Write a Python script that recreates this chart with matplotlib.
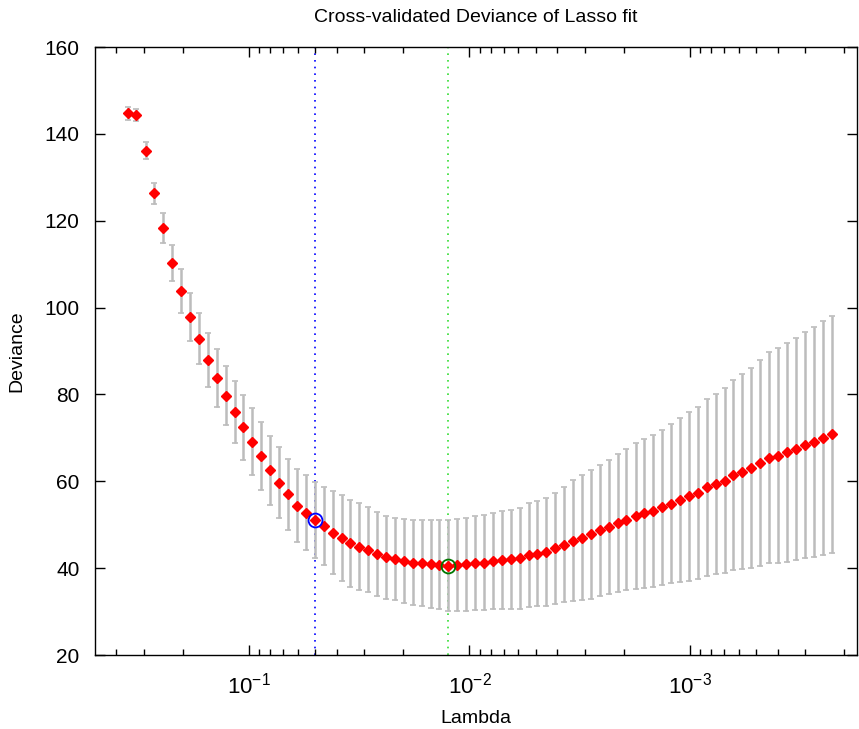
import numpy as np
import matplotlib
matplotlib.use("Agg")
import matplotlib.pyplot as plt
from matplotlib.ticker import LogLocator, NullFormatter, MultipleLocator

plt.rcParams['font.family'] = ['Liberation Sans', 'DejaVu Sans']
plt.rcParams['mathtext.default'] = 'regular'

# log10 of lambda for each plotted point
log_lambda = [-0.450, -0.490, -0.531, -0.571, -0.612, -0.652, -0.692, -0.733, -0.773, -0.814,
              -0.854, -0.894, -0.935, -0.975, -1.016, -1.056, -1.096, -1.137, -1.177, -1.218,
              -1.258, -1.298, -1.339, -1.379, -1.420, -1.460, -1.500, -1.541, -1.581, -1.622,
              -1.662, -1.702, -1.743, -1.783, -1.824, -1.864, -1.904, -1.945, -1.985, -2.026,
              -2.066, -2.106, -2.147, -2.187, -2.228, -2.268, -2.308, -2.349, -2.389, -2.430,
              -2.470, -2.510, -2.551, -2.591, -2.632, -2.672, -2.712, -2.753, -2.793, -2.834,
              -2.874, -2.914, -2.955, -2.995, -3.036, -3.076, -3.116, -3.157, -3.197, -3.238,
              -3.278, -3.318, -3.359, -3.399, -3.440, -3.480, -3.520, -3.561, -3.601, -3.642]

deviance = [144.7, 144.3, 136.1, 126.3, 118.3, 110.3, 103.8, 97.8, 92.8, 87.9,
            83.8, 79.7, 76.0, 72.4, 69.1, 65.8, 62.5, 59.7, 57.0, 54.4,
            52.8, 51.1, 49.8, 48.2, 46.9, 45.7, 44.9, 44.2, 43.3, 42.5,
            42.1, 41.7, 41.3, 41.2, 40.9, 40.8, 40.6, 40.8, 40.9, 41.2,
            41.3, 41.6, 41.9, 42.1, 42.3, 43.0, 43.3, 43.7, 44.6, 45.4,
            46.3, 47.0, 47.8, 48.7, 49.5, 50.3, 51.2, 52.0, 52.6, 53.2,
            54.0, 54.8, 55.6, 56.5, 57.3, 58.6, 59.4, 60.1, 61.4, 62.2,
            63.0, 64.3, 65.4, 65.9, 66.7, 67.5, 68.4, 69.1, 69.9, 70.8]

std_err = [1.4, 1.4, 2.0, 2.5, 3.4, 4.2, 5.0, 5.6, 5.9, 6.2,
           6.6, 6.8, 7.2, 7.4, 7.7, 7.8, 7.9, 8.2, 8.2, 8.4,
           8.6, 8.7, 9.0, 9.6, 9.9, 10.0, 10.0, 9.8, 9.7, 9.5,
           9.5, 9.7, 9.8, 10.0, 10.1, 10.2, 10.4, 10.6, 10.7, 10.9,
           11.0, 11.1, 11.3, 11.4, 11.6, 11.9, 12.1, 12.4, 12.8, 13.3,
           13.9, 14.4, 14.8, 15.1, 15.4, 15.9, 16.3, 16.8, 17.1, 17.5,
           17.9, 18.3, 18.9, 19.4, 19.7, 20.3, 20.8, 21.3, 21.9, 22.4,
           23.0, 23.7, 24.3, 24.8, 25.2, 25.6, 26.0, 26.5, 26.9, 27.3]

idx_1se = 21     # lambda within 1 SE (blue)
idx_min = 36     # lambda of min deviance (green)

lam = 10.0 ** np.array(log_lambda)
dev = np.array(deviance)
se = np.array(std_err)

fig = plt.figure(figsize=(8.59, 7.29), dpi=100)
ax = fig.add_axes([0.1106, 0.1015, 0.8870, 0.834])

ax.errorbar(lam, dev, yerr=se, fmt='none', ecolor='#bcbcbc', elinewidth=1.8,
            capsize=2.0, capthick=1.2, zorder=2)
ax.plot(lam, dev, linestyle='none', marker='D', markersize=4.6, color='red',
        markeredgecolor='red', zorder=3)

ax.axvline(lam[idx_1se], color='#0000ff', linestyle=(0, (1, 3)), linewidth=1.2, zorder=1)
ax.axvline(lam[idx_min], color='#33dd33', linestyle=(0, (1, 3)), linewidth=1.2, zorder=1)
ax.plot(lam[idx_1se], dev[idx_1se], marker='o', markersize=10, markerfacecolor='none',
        markeredgecolor='#0000ff', markeredgewidth=1.3, linestyle='none', zorder=4)
ax.plot(lam[idx_min], dev[idx_min], marker='o', markersize=10, markerfacecolor='none',
        markeredgecolor='#007700', markeredgewidth=1.3, linestyle='none', zorder=4)

ax.set_xscale('log')
ax.set_xlim(0.499, 1.75e-4)
ax.set_ylim(20, 160)
ax.yaxis.set_major_locator(MultipleLocator(20))
ax.xaxis.set_major_locator(LogLocator(base=10, numticks=10))
ax.xaxis.set_minor_locator(LogLocator(base=10, subs=np.arange(2, 10), numticks=50))
ax.xaxis.set_minor_formatter(NullFormatter())

ax.tick_params(which='both', direction='in', top=True, right=True, color='black')
ax.tick_params(axis='y', labelsize=15, pad=11)
ax.tick_params(axis='x', labelsize=16, pad=13)
ax.tick_params(which='major', length=7, width=1)
ax.tick_params(which='minor', length=4, width=1)
for s in ax.spines.values():
    s.set_linewidth(1.0)
    s.set_color('black')

ax.set_xlabel('Lambda', fontsize=14, labelpad=8)
ax.set_ylabel('Deviance', fontsize=14, labelpad=14)
ax.set_title('Cross-validated Deviance of Lasso fit', fontsize=14, pad=18)

fig.savefig('out.png', dpi=100, facecolor='white')
